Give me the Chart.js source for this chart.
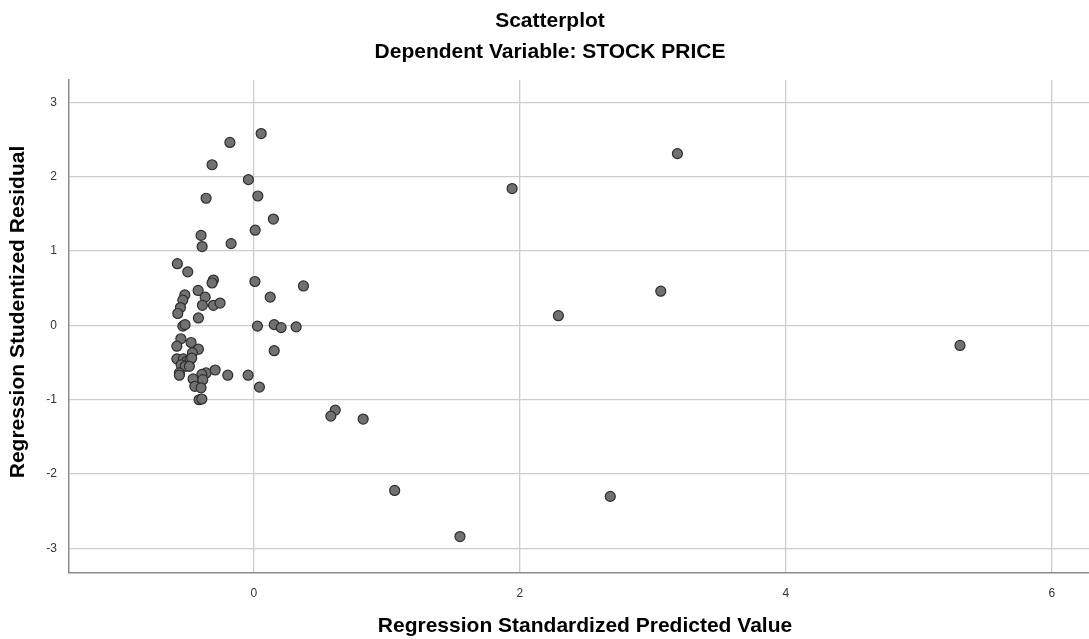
<!DOCTYPE html>
<html>
<head>
<meta charset="utf-8">
<script src="https://cdn.jsdelivr.net/npm/chart.js@4/dist/chart.umd.min.js"></script>
<style>
  html, body { margin: 0; padding: 0; background: #ffffff; }
  #wrap { width: 1089px; height: 639px; position: relative; }
</style>
</head>
<body>
<div id="wrap"><canvas id="c" width="1089" height="639"></canvas></div>
<script>
// ---- data ----
const predictedValues = [
  0.055, -0.18, -0.314, -0.041, -0.359, 0.030, 0.147, 0.010, -0.397, -0.171,
  -0.389, -0.575, -0.497, -0.304, -0.314, 0.008, 0.373, -0.419, -0.519, -0.534,
  -0.366, 0.123, -0.552, -0.387, -0.304, -0.254, -0.572, -0.417, -0.534, -0.517,
  0.027, 0.153, 0.205, 0.318, 0.153, -0.549, -0.579, -0.472, -0.417, -0.462,
  -0.579, -0.530, -0.504, -0.479, -0.467, -0.547, -0.517, -0.485, -0.560, -0.560,
  -0.359, -0.391, -0.291, -0.196, -0.043, -0.457, -0.384, -0.444, -0.397, 0.042,
  -0.412, -0.391, 0.612, 0.579, 0.822, 1.942, 3.185, 3.06, 2.29, 1.059,
  1.55, 2.68, 5.31
];
const studentizedResiduals = [
  2.58, 2.46, 2.16, 1.96, 1.71, 1.74, 1.43, 1.28, 1.21, 1.10,
  1.06, 0.83, 0.72, 0.61, 0.57, 0.59, 0.53, 0.47, 0.41, 0.34,
  0.38, 0.38, 0.24, 0.27, 0.27, 0.30, 0.16, 0.10, -0.01, 0.01,
  -0.01, 0.01, -0.03, -0.02, -0.34, -0.18, -0.28, -0.23, -0.32, -0.37,
  -0.45, -0.45, -0.48, -0.46, -0.44, -0.53, -0.55, -0.55, -0.64, -0.67,
  -0.64, -0.66, -0.60, -0.67, -0.67, -0.72, -0.73, -0.82, -0.84, -0.83,
  -1.00, -0.99, -1.14, -1.22, -1.26, 1.84, 2.31, 0.46, 0.13, -2.22,
  -2.84, -2.30, -0.27
];
const xTicks = [0, 2, 4, 6];
const yTicks = [-3, -2, -1, 0, 1, 2, 3];
const titleText = 'Scatterplot';
const subtitleText = 'Dependent Variable: STOCK PRICE';
const xTitle = 'Regression Standardized Predicted Value';
const yTitle = 'Regression Studentized Residual';

const points = predictedValues.map((x, i) => ({ x: x, y: studentizedResiduals[i] }));
const FONT = "'Liberation Sans', Arial, sans-serif";

const textPlugin = {
  id: 'spssText',
  afterDraw(chart) {
    const ctx = chart.ctx;
    ctx.save();
    ctx.fillStyle = '#000000';
    ctx.textAlign = 'center';
    ctx.textBaseline = 'middle';
    ctx.font = 'bold 21px ' + FONT;
    ctx.fillText(titleText, 550, 21);
    ctx.fillText(subtitleText, 550, 52);
    ctx.fillText(xTitle, 585, 626);
    ctx.translate(18, 312);
    ctx.rotate(-Math.PI / 2);
    ctx.fillText(yTitle, 0, 0);
    ctx.restore();
  }
};

new Chart(document.getElementById('c'), {
  type: 'scatter',
  data: {
    datasets: [{
      data: points,
      pointRadius: 5,
      pointHoverRadius: 5,
      pointBackgroundColor: '#717171',
      pointBorderColor: '#2e2e2e',
      pointBorderWidth: 1.2
    }]
  },
  options: {
    responsive: false,
    animation: false,
    events: [],
    layout: { autoPadding: false, padding: { top: 80, right: 0, left: 0, bottom: 0 } },
    plugins: { legend: { display: false }, tooltip: { enabled: false }, title: { display: false } },
    scales: {
      x: {
        type: 'linear',
        min: -1.39,
        max: 6.28,
        afterBuildTicks(scale) { scale.ticks = xTicks.map(v => ({ value: v })); },
        afterFit(scale) { scale.height = 66; scale.paddingLeft = 0; scale.paddingRight = 0; },
        grid: { color: '#cdcdcd', lineWidth: 1.3, drawTicks: false },
        border: { display: true, color: '#8c8c8c', width: 1.5 },
        ticks: { color: '#333333', font: { family: FONT, size: 12 }, padding: 13, maxRotation: 0 }
      },
      y: {
        type: 'linear',
        min: -3.33,
        max: 3.3,
        afterBuildTicks(scale) { scale.ticks = yTicks.map(v => ({ value: v })); },
        afterFit(scale) { scale.width = 69; scale.paddingTop = 0; scale.paddingBottom = 0; },
        grid: { color: '#cdcdcd', lineWidth: 1.3, drawTicks: false },
        border: { display: true, color: '#8c8c8c', width: 1.5 },
        ticks: { color: '#333333', font: { family: FONT, size: 12 }, padding: 12 }
      }
    }
  },
  plugins: [textPlugin]
});
</script>
</body>
</html>
